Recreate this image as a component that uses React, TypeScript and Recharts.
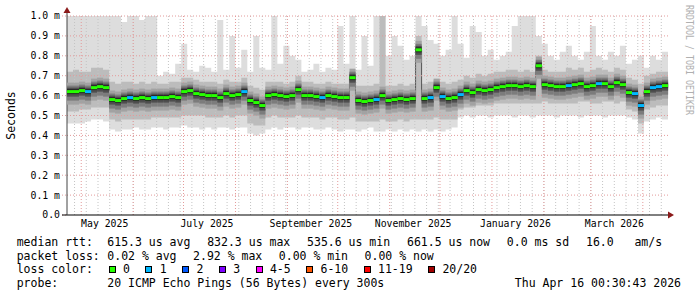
import React from 'react'
import { ComposedChart, Area, Line, XAxis, YAxis, ReferenceLine, ReferenceDot } from 'recharts'

// graph window (rrd step buckets)
const startMs = Date.UTC(2025, 3, 22, 12)
const endMs = Date.UTC(2026, 3, 16, 0, 30)

// median rtt per bucket, in ms
const median = [
  0.62, 0.62, 0.625, 0.62, 0.64, 0.645, 0.64, 0.58, 0.575, 0.585,
  0.59, 0.585, 0.59, 0.585, 0.59, 0.59, 0.59, 0.595, 0.59, 0.62,
  0.625, 0.61, 0.605, 0.6, 0.6, 0.59, 0.61, 0.6, 0.605, 0.62,
  0.575, 0.565, 0.55, 0.6, 0.605, 0.6, 0.595, 0.6, 0.63, 0.6,
  0.6, 0.595, 0.59, 0.6, 0.595, 0.59, 0.59, 0.69, 0.575, 0.57,
  0.575, 0.58, 0.6, 0.575, 0.58, 0.585, 0.58, 0.585, 0.83, 0.585,
  0.59, 0.64, 0.595, 0.585, 0.59, 0.605, 0.625, 0.615, 0.63, 0.625,
  0.63, 0.64, 0.645, 0.65, 0.65, 0.645, 0.65, 0.645, 0.75, 0.655,
  0.65, 0.645, 0.645, 0.65, 0.655, 0.66, 0.645, 0.65, 0.66, 0.66,
  0.645, 0.665, 0.655, 0.615, 0.61, 0.55, 0.62, 0.64, 0.645, 0.65,
]

// smoke: slowest ping
const smokeMax = [
  1, 1, 1, 1, 1, 1, 1, 1, 1, 0.97, 1, 1, 0.98, 1, 1,
  0.7, 0.72, 0.71, 0.76, 0.86, 0.73, 0.72, 0.75, 0.74, 0.72, 0.98, 0.73, 0.9, 0.74, 0.83,
  0.72, 0.9, 0.74, 0.73, 1, 0.76, 0.85, 0.8, 0.78, 0.72, 0.73, 0.76, 0.72, 0.74, 0.73, 0.95, 0.76,
  1, 0.73, 0.9, 0.75, 1, 1, 0.8, 0.9, 0.85, 0.78, 0.8, 1, 0.95, 0.88, 0.86, 0.8, 0.83, 1,
  0.86, 0.79, 0.95, 0.92, 0.8, 0.83, 0.78, 0.8, 0.82, 0.95, 1, 1, 1, 0.9, 0.86, 0.8, 0.78, 0.82,
  0.85, 0.8, 0.78, 0.82, 0.95, 0.8, 0.78, 0.82, 0.8, 0.85, 0.76, 0.78, 0.8, 0.74, 0.8, 0.78, 0.82,
]

// smoke: upper inner band
const smokeHi = [
  0.72, 0.73, 0.72, 0.72, 0.74, 0.74, 0.73,
  0.67, 0.66, 0.67, 0.67, 0.66, 0.67, 0.66, 0.67,
  0.66, 0.66, 0.67, 0.67, 0.69, 0.69, 0.68, 0.67, 0.67, 0.67, 0.66, 0.68, 0.67, 0.67, 0.69,
  0.65, 0.64, 0.63, 0.67, 0.67, 0.67, 0.66, 0.67, 0.7, 0.67, 0.67, 0.66, 0.66, 0.67, 0.66, 0.66, 0.66,
  0.72,
  0.65, 0.65, 0.65, 0.66, 1.0, 0.65, 0.65, 0.66, 0.65, 0.66,
  0.9,
  0.66, 0.67, 0.68, 0.67, 0.66, 0.67,
  0.68, 0.7, 0.69, 0.71, 0.7, 0.71, 0.72, 0.72, 0.73, 0.73, 0.72, 0.73, 0.72,
  0.8,
  0.73, 0.72, 0.72, 0.72, 0.74, 0.73, 0.74, 0.72, 0.73, 0.74, 0.73, 0.72, 0.74, 0.73,
  0.69, 0.68, 0.66, 0.7, 0.71, 0.72, 0.72,
]

// smoke: lower inner band
const smokeLo = [
  0.52, 0.52, 0.53, 0.53, 0.54, 0.54, 0.54,
  0.48, 0.47, 0.48, 0.48, 0.48, 0.48, 0.48, 0.49,
  0.49, 0.49, 0.49, 0.49, 0.5, 0.5, 0.5, 0.5, 0.49, 0.49, 0.49, 0.5, 0.49, 0.5, 0.5,
  0.46, 0.45, 0.45, 0.49, 0.5, 0.49, 0.49, 0.49, 0.5, 0.49, 0.49, 0.49, 0.48, 0.49, 0.49, 0.48, 0.48,
  0.49, 0.47, 0.47, 0.47, 0.47, 0.48, 0.47, 0.47, 0.48, 0.47, 0.48, 0.48, 0.48, 0.48, 0.49, 0.48, 0.48, 0.48,
  0.53, 0.54, 0.54, 0.55, 0.55, 0.55, 0.56, 0.56, 0.56, 0.56, 0.56, 0.56, 0.56, 0.56,
  0.57, 0.56, 0.56, 0.56, 0.56, 0.56, 0.57, 0.57, 0.56, 0.56, 0.57, 0.57, 0.56, 0.57,
  0.53, 0.52, 0.46, 0.53, 0.54, 0.55, 0.55,
]

// smoke: fastest ping
const smokeMin = [
  0.46, 0.46, 0.46, 0.47, 0.48, 0.48, 0.47,
  0.43, 0.42, 0.43, 0.43, 0.44, 0.43, 0.43, 0.44,
  0.44, 0.43, 0.44, 0.44, 0.45, 0.44, 0.44, 0.43, 0.44, 0.43, 0.44, 0.44, 0.43, 0.44, 0.44,
  0.41, 0.4, 0.41, 0.43, 0.44, 0.43, 0.44, 0.44, 0.43, 0.44, 0.44, 0.43, 0.43, 0.44, 0.43, 0.42, 0.43,
  0.43, 0.42, 0.43, 0.44, 0.42, 0.42, 0.43, 0.42, 0.43, 0.42, 0.43, 0.42, 0.43, 0.42, 0.43, 0.42, 0.43, 0.44,
  0.49, 0.5, 0.49, 0.5, 0.5, 0.49, 0.5, 0.5, 0.5, 0.49, 0.5, 0.5, 0.49, 0.5,
  0.5, 0.5, 0.49, 0.5, 0.5, 0.5, 0.49, 0.5, 0.5, 0.5, 0.49, 0.5, 0.5, 0.5,
  0.49, 0.48, 0.41, 0.47, 0.48, 0.49, 0.48,
]

// lost pings (of 20) per bucket
const lossCount = [
  0, 0, 0, 1, 0, 0, 0, 0, 0, 0,
  1, 0, 0, 0, 1, 0, 0, 0, 0, 0,
  0, 0, 0, 0, 0, 0, 0, 0, 0, 1,
  0, 0, 0, 0, 0, 0, 0, 0, 0, 0,
  0, 0, 1, 0, 0, 0, 0, 0, 0, 0,
  0, 1, 0, 0, 0, 0, 0, 0, 0, 0,
  1, 0, 1, 0, 0, 1, 0, 0, 0, 0,
  0, 0, 0, 0, 0, 0, 0, 0, 0, 0,
  0, 0, 0, 1, 0, 0, 0, 0, 1, 0,
  0, 0, 0, 0, 1, 1, 0, 1, 1, 0,
]

const yTicks = [0, 0.1, 0.2, 0.3, 0.4, 0.5, 0.6, 0.7, 0.8, 0.9, 1.0]
const labelTicks = [
  Date.UTC(2025, 4, 15), Date.UTC(2025, 6, 15), Date.UTC(2025, 8, 15),
  Date.UTC(2025, 10, 15), Date.UTC(2026, 0, 15), Date.UTC(2026, 2, 15),
]
const monthLabels = ['May 2025', 'July 2025', 'September 2025', 'November 2025', 'January 2026', 'March 2026']

const lossNames = ['0', '1', '2', '3', '4-5', '6-10', '11-19', '20/20']
const lossLimits = [0, 1, 2, 3, 5, 10, 19, 20]
const lossColors = ['#26ff00', '#00b8ff', '#0059ff', '#7e00ff', '#ff00ff', '#ff5500', '#ff0000', '#a10000']

const rttStats = ['615.3 us avg', '832.3 us max', '535.6 us min', '661.5 us now', '0.0 ms sd', '16.0   am/s']
const lossStats = ['0.02 % avg', '2.92 % max', '0.00 % min', '0.00 % now']
const probeText = '20 ICMP Echo Pings (56 Bytes) every 300s'
const stampText = 'Thu Apr 16 00:30:43 2026'

const DAY = 86400000
const mono = '"DejaVu Sans Mono", monospace'

const monthTicks: number[] = []
for (let m = 4; m <= 15; m++) monthTicks.push(Date.UTC(2025, m, 1))
const weekTicks: number[] = []
for (let t = Date.UTC(2025, 3, 27); t < endMs; t += 7 * DAY) weekTicks.push(t)

const bucketMs = (endMs - startMs) / median.length
const rows = median.map((m, i) => ({
  t: startMs + i * bucketMs,
  outer: [smokeMin[i], smokeMax[i]],
  inner: [smokeLo[i], smokeHi[i]],
  med: m,
  loss: lossCount[i],
}))
rows.push({ ...rows[rows.length - 1], t: endMs, loss: 0 })

const lossColor = (n: number) => lossColors[lossLimits.findIndex((l) => n <= l)]
const W = 6.1

// dense smoke right around the median of each bucket
const SmokeCore = (p: any) => {
  if (!p.payload || p.index >= median.length) return <g key={`c${p.index}`} />
  return (
    <g key={`c${p.index}`}>
      <rect x={p.cx} y={p.cy - 9} width={W} height={22} fill="#a2a2a2" />
      <rect x={p.cx} y={p.cy - 6} width={W} height={15} fill="#7c7c7c" />
      <rect x={p.cx} y={p.cy - 4} width={W} height={9} fill="#4e4e4e" />
      <rect x={p.cx} y={p.cy - 2.5} width={W} height={5} fill="#262626" />
    </g>
  )
}

// median drawn as one short dash per bucket, coloured by loss
const MedianDash = (p: any) => {
  if (!p.payload || p.index >= median.length) return <g key={`d${p.index}`} />
  return <rect key={`d${p.index}`} x={p.cx} y={p.cy - 1.5} width={W} height={3} fill={lossColor(p.payload.loss)} />
}

const UpArrow = (p: any) => (
  <g>
    <line x1={p.cx} y1={p.cy} x2={p.cx} y2={p.cy - 3} stroke="#444" />
    <path d={`M${p.cx - 3.5},${p.cy - 3} L${p.cx},${p.cy - 9} L${p.cx + 3.5},${p.cy - 3} Z`} fill="#8b1a1a" />
  </g>
)

// x axis stub left of the y axis
const AxisStub = (p: any) => <line x1={p.cx - 5} y1={p.cy} x2={p.cx} y2={p.cy} stroke="#000" />

const RightArrow = (p: any) => (
  <path d={`M${p.cx},${p.cy - 3.5} L${p.cx + 6},${p.cy} L${p.cx},${p.cy + 3.5} Z`} fill="#8b1a1a" />
)

const row = (top: number): React.CSSProperties => ({
  position: 'absolute', left: 16.7, top, display: 'flex', alignItems: 'center',
  whiteSpace: 'pre', lineHeight: '14px', height: 14,
})

export default function App() {
  return (
    <div style={{ position: 'absolute', left: 0, top: 0, width: 697, height: 297, background: '#fff', fontFamily: mono, fontSize: 11.5, color: '#000' }}>
      <ComposedChart width={697} height={240} data={rows} margin={{ top: 16, right: 29, bottom: 3, left: 5 }}>
        <XAxis xAxisId="lbl" dataKey="t" type="number" domain={[startMs, endMs]} ticks={labelTicks} interval={0}
          tickFormatter={(v: number) => monthLabels[labelTicks.indexOf(v)]}
          tick={{ fontSize: 9.8, fill: '#000', fontFamily: mono }} tickLine={false} tickSize={0} tickMargin={5}
          axisLine={{ stroke: '#000' }} height={22} />
        <YAxis domain={[0, 1]} ticks={yTicks} interval={0} width={62}
          tickFormatter={(v: number) => (v === 0 ? '0.0' : `${v.toFixed(1)} m`)}
          tick={{ fontSize: 9.8, fill: '#000', fontFamily: mono }}
          tickSize={5} tickMargin={2} tickLine={{ stroke: '#e0a0a0', strokeDasharray: '1 2' }}
          axisLine={{ stroke: '#444' }}
          label={{ value: 'Seconds', angle: -90, position: 'insideLeft', offset: 6, style: { textAnchor: 'middle', fontSize: 11.5, fontFamily: mono, fill: '#000' } }} />

        <Area xAxisId="lbl" type="stepAfter" dataKey="outer" stroke="none" fill="#dddddd" fillOpacity={1} isAnimationActive={false} dot={false} activeDot={false} />
        <Area xAxisId="lbl" type="stepAfter" dataKey="inner" stroke="none" fill="#bcbcbc" fillOpacity={1} isAnimationActive={false} dot={false} activeDot={false} />
        <Line xAxisId="lbl" type="stepAfter" dataKey="med" stroke="#555" strokeWidth={1} dot={SmokeCore} activeDot={false} isAnimationActive={false} />

        {weekTicks.map((t) => (
          <ReferenceLine key={`w${t}`} xAxisId="lbl" x={t} stroke="#c4c4c4" strokeDasharray="1 2" />
        ))}
        {monthTicks.map((t) => (
          <ReferenceLine key={`m${t}`} xAxisId="lbl" x={t} stroke="#e39a9a" strokeDasharray="1 2" />
        ))}
        {yTicks.filter((v) => v > 0).map((v) => (
          <ReferenceLine key={`y${v}`} xAxisId="lbl" y={v} stroke="#e39a9a" strokeDasharray="1 2" />
        ))}

        <Line xAxisId="lbl" type="stepAfter" dataKey="med" stroke="none" dot={MedianDash} activeDot={false} isAnimationActive={false} />

        <ReferenceDot xAxisId="lbl" x={startMs} y={1} ifOverflow="visible" shape={UpArrow} />
        <ReferenceDot xAxisId="lbl" x={startMs} y={0} ifOverflow="visible" shape={AxisStub} />
        <ReferenceDot xAxisId="lbl" x={endMs} y={0} ifOverflow="visible" shape={RightArrow} />
      </ComposedChart>

      <svg width={697} height={297} style={{ position: 'absolute', left: 0, top: 0, pointerEvents: 'none' }}>
        <text transform="translate(686,5) rotate(90)" fontFamily={mono} fontSize={10} fill="#b0b0b0"
          textLength={110} lengthAdjust="spacingAndGlyphs">RRDTOOL / TOBI OETIKER</text>
      </svg>

      <div style={row(234.5)}>
        <span style={{ width: 90.6 }}>median rtt:</span>
        {rttStats.map((s) => <span key={s} style={{ marginRight: 16.8 }}>{s}</span>)}
      </div>
      <div style={row(248.5)}>
        <span style={{ width: 90.6 }}>packet loss:</span>
        {lossStats.map((s, i) => <span key={i} style={{ marginRight: 16.5 }}>{s}</span>)}
      </div>
      <div style={row(262)}>
        <span style={{ width: 92 }}>loss color:</span>
        {lossNames.map((s, i) => (
          <span key={s} style={{ display: 'flex', alignItems: 'center', marginRight: 15.5 }}>
            <span style={{ width: 5, height: 5, border: '1px solid #000', background: lossColors[i], marginRight: 7.3 }} />
            {s}
          </span>
        ))}
      </div>
      <div style={row(276)}>
        <span style={{ width: 90.6 }}>probe:</span>
        <span>{probeText}</span>
      </div>
      <div style={{ position: 'absolute', right: 16, top: 276, lineHeight: '14px', whiteSpace: 'pre' }}>{stampText}</div>
    </div>
  )
}
